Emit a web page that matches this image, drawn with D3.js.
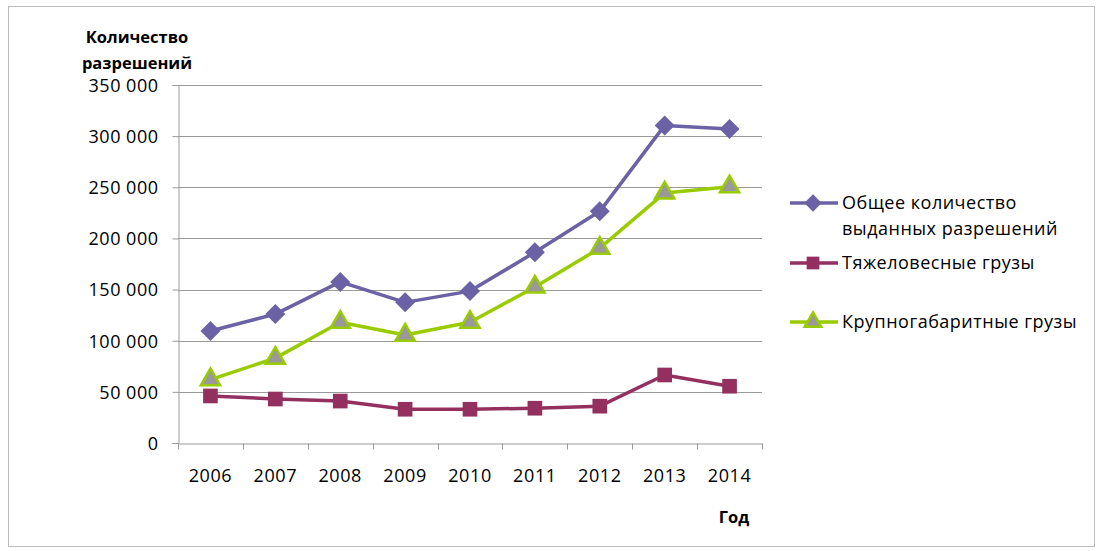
<!DOCTYPE html>
<html>
<head>
<meta charset="utf-8">
<script src="https://cdn.jsdelivr.net/npm/d3@7"></script>
<style>
  body { margin: 0; background: #fff; }
  text { font-family: "Open Sans", "Noto Sans", sans-serif; fill: #000; }
</style>
</head>
<body>
<svg id="chart"></svg>
<script>
// chart data
var years = ["2006", "2007", "2008", "2009", "2010", "2011", "2012", "2013", "2014"];
var totalPermits = [109500, 126000, 157500, 137500, 148500, 186500, 226500, 310500, 307000];
var heavyCargo = [46000, 43000, 41000, 33000, 33000, 34000, 36000, 66500, 55500];
var oversizeCargo = [62000, 83000, 118000, 105500, 118000, 152500, 190500, 244500, 250500];
var yTicks = [0, 50000, 100000, 150000, 200000, 250000, 300000, 350000];

var W = 1102, H = 551;
var margin = {top: 85, left: 178, right: 340, bottom: 108};
var width = W - margin.left - margin.right,
    height = H - margin.top - margin.bottom;

var svg = d3.select("#chart").attr("width", W).attr("height", H);

// outer frame
svg.append("rect")
    .attr("x", 8.5).attr("y", 6.5)
    .attr("width", 1086).attr("height", 540)
    .attr("fill", "none").attr("stroke", "#bdbdbd");

var g = svg.append("g")
    .attr("transform", "translate(" + margin.left + "," + margin.top + ")");

var x = d3.scaleBand().domain(years).range([0, width]);
var y = d3.scaleLinear().domain([0, 350000]).range([height, 0]);

var fmt = function(d) { return d3.format(",")(d).replace(/,/g, " "); };

// gridlines
g.append("g")
    .selectAll("line")
    .data(yTicks.slice(1))
  .enter().append("line")
    .attr("x1", 0).attr("x2", width)
    .attr("y1", function(d) { return Math.round(y(d)) + 0.5; })
    .attr("y2", function(d) { return Math.round(y(d)) + 0.5; })
    .attr("stroke", "#9a9a9a");

// y axis
var yAxis = g.append("g")
    .attr("transform", "translate(0.5,0)")
    .call(d3.axisLeft(y).tickValues(yTicks).tickFormat(fmt).tickSize(6).tickPadding(14));
yAxis.selectAll("path, line").attr("stroke", "#9a9a9a");
yAxis.selectAll("text").style("font-size", "18px").style("letter-spacing", "0.5px").attr("dy", "0.35em");

// x axis
var xAxis = g.append("g")
    .attr("transform", "translate(0," + (height + 0.5) + ")")
    .call(d3.axisBottom(x).tickSize(0).tickPadding(26));
xAxis.select("path").attr("stroke", "#9a9a9a");
xAxis.selectAll("text").style("font-size", "18px").style("letter-spacing", "0.6px");
xAxis.append("g")
    .selectAll("line")
    .data(years.concat(["end"]))
  .enter().append("line")
    .attr("x1", function(d, i) { return Math.round(i * x.bandwidth()) + 0.5; })
    .attr("x2", function(d, i) { return Math.round(i * x.bandwidth()) + 0.5; })
    .attr("y1", 0).attr("y2", 6)
    .attr("stroke", "#9a9a9a");

// axis titles
svg.append("text").attr("x", 137).attr("y", 43).attr("text-anchor", "middle")
    .style("font-size", "16.5px").style("font-weight", "bold").text("Количество");
svg.append("text").attr("x", 137).attr("y", 69).attr("text-anchor", "middle")
    .style("font-size", "16.5px").style("font-weight", "bold").text("разрешений");
svg.append("text").attr("x", 734).attr("y", 523).attr("text-anchor", "middle")
    .style("font-size", "16.5px").style("font-weight", "bold").text("Год");

// diamond as a square turned 45 degrees
var diamond = {
  draw: function(context, size) {
    var r = Math.sqrt(size / 2);
    context.moveTo(0, -r);
    context.lineTo(r, 0);
    context.lineTo(0, r);
    context.lineTo(-r, 0);
    context.closePath();
  }
};

var series = [
  {name: ["Общее количество", "выданных разрешений"], values: totalPermits,
   color: "#6a62a4", fill: "#6a62a4", shape: diamond, size: 200, legendY: 203},
  {name: ["Тяжеловесные грузы"], values: heavyCargo,
   color: "#93305f", fill: "#93305f", shape: d3.symbolSquare, size: 215, legendY: 263},
  {name: ["Крупногабаритные грузы"], values: oversizeCargo,
   color: "#99cc00", fill: "#999999", shape: d3.symbolTriangle, size: 160, legendY: 322}
];

var line = d3.line()
    .x(function(d, i) { return x(years[i]) + x.bandwidth() / 2; })
    .y(function(d) { return y(d); });

series.forEach(function(s) {
  g.append("path")
      .datum(s.values)
      .attr("fill", "none")
      .attr("stroke", s.color)
      .attr("stroke-width", 3.5)
      .attr("stroke-linejoin", "round")
      .attr("d", line);

  g.selectAll(null)
      .data(s.values)
    .enter().append("path")
      .attr("transform", function(d, i) {
        return "translate(" + (x(years[i]) + x.bandwidth() / 2) + "," + y(d) + ")";
      })
      .attr("d", d3.symbol().type(s.shape).size(s.size))
      .attr("fill", s.fill)
      .attr("stroke", s.shape === d3.symbolTriangle ? s.color : "none")
      .attr("stroke-width", 2.5);

  // legend
  var lg = svg.append("g").attr("transform", "translate(790," + s.legendY + ")");
  lg.append("line").attr("x1", 0).attr("x2", 48).attr("y1", 0).attr("y2", 0)
      .attr("stroke", s.color).attr("stroke-width", 3.5);
  lg.append("path").attr("transform", "translate(23,0)")
      .attr("d", d3.symbol().type(s.shape).size(s.size * 0.75))
      .attr("fill", s.fill)
      .attr("stroke", s.shape === d3.symbolTriangle ? s.color : "none")
      .attr("stroke-width", 2.5);
  s.name.forEach(function(t, k) {
    lg.append("text").attr("x", 52).attr("y", k * 26).attr("dy", "0.35em")
        .style("font-size", "18px").style("letter-spacing", "0.5px").text(t);
  });
});
</script>
</body>
</html>
